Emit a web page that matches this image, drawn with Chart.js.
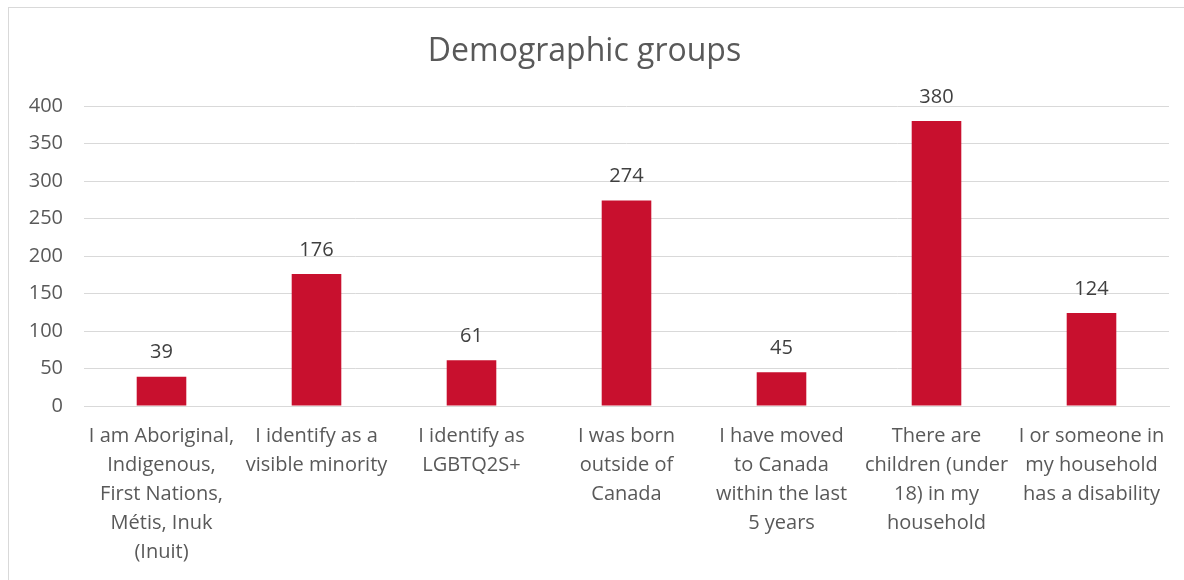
<!DOCTYPE html>
<html>
<head>
<meta charset="utf-8">
<script src="https://cdn.jsdelivr.net/npm/chart.js@4.4.1/dist/chart.umd.min.js"></script>
<style>
  html, body { margin: 0; padding: 0; background: #fff; }
  #frame {
    position: absolute; left: 8px; top: 7px;
    width: 1176px; height: 573px;
    border-left: 1px solid #d9d9d9; border-top: 1px solid #d9d9d9;
    box-sizing: border-box;
  }
  #wrap { position: absolute; left: 0; top: 0; width: 1184px; height: 580px; }
</style>
</head>
<body>
<div id="frame"></div>
<div id="wrap"><canvas id="demoChart"></canvas></div>
<script>
// Survey counts by demographic group
const categories = [
  ['I am Aboriginal,', 'Indigenous,', 'First Nations,', 'Métis, Inuk', '(Inuit)'],
  ['I identify as a', 'visible minority'],
  ['I identify as', 'LGBTQ2S+'],
  ['I was born', 'outside of', 'Canada'],
  ['I have moved', 'to Canada', 'within the last', '5 years'],
  ['There are', 'children (under', '18) in my', 'household'],
  ['I or someone in', 'my household', 'has a disability']
];
const counts = [39, 176, 61, 274, 45, 380, 124];
const yTicks = { min: 0, max: 400, step: 50 };

const fontFamily = '"Open Sans", Lato, sans-serif';
const textColor = '#595959';

// draws the value above each bar
const valueLabels = {
  id: 'valueLabels',
  afterDatasetsDraw(chart) {
    const ctx = chart.ctx;
    const meta = chart.getDatasetMeta(0);
    ctx.save();
    ctx.font = '20px ' + fontFamily;
    ctx.fillStyle = '#404040';
    ctx.textAlign = 'center';
    ctx.textBaseline = 'middle';
    meta.data.forEach((bar, i) => {
      const p = bar.getProps(['x', 'y'], true);
      ctx.fillText(String(counts[i]), p.x, p.y - 24);
    });
    ctx.restore();
  }
};

const ctx = document.getElementById('demoChart').getContext('2d');
const myChart = new Chart(ctx, {
  type: 'bar',
  data: {
    labels: categories,
    datasets: [{
      label: 'Demographic groups',
      data: counts,
      backgroundColor: '#C8102E',
      borderWidth: 0,
      barPercentage: 0.32,
      categoryPercentage: 1.0
    }]
  },
  options: {
    responsive: true,
    maintainAspectRatio: false,
    animation: false,
    layout: { padding: { left: 0, right: 15, top: 0, bottom: 0 } },
    plugins: {
      legend: { display: false },
      tooltip: { enabled: false },
      title: {
        display: true,
        text: 'Demographic groups',
        color: textColor,
        font: { family: fontFamily, size: 32, weight: 'normal' },
        padding: { top: 33, bottom: 34.6 }
      }
    },
    scales: {
      x: {
        grid: { display: false },
        border: { display: true, color: '#d9d9d9', width: 1 },
        ticks: {
          color: textColor,
          font: { family: fontFamily, size: 20, lineHeight: 1.45 },
          maxRotation: 0,
          autoSkip: false,
          padding: 8
        },
        afterFit: s => { s.height = 174; }
      },
      y: {
        min: yTicks.min,
        max: yTicks.max,
        grid: { color: '#d9d9d9', lineWidth: 1, drawTicks: false },
        border: { display: false },
        ticks: {
          stepSize: yTicks.step,
          color: textColor,
          font: { family: fontFamily, size: 20 },
          padding: 21
        },
        afterFit: s => { s.width = 84; }
      }
    }
  },
  plugins: [valueLabels]
});
</script>
</body>
</html>
